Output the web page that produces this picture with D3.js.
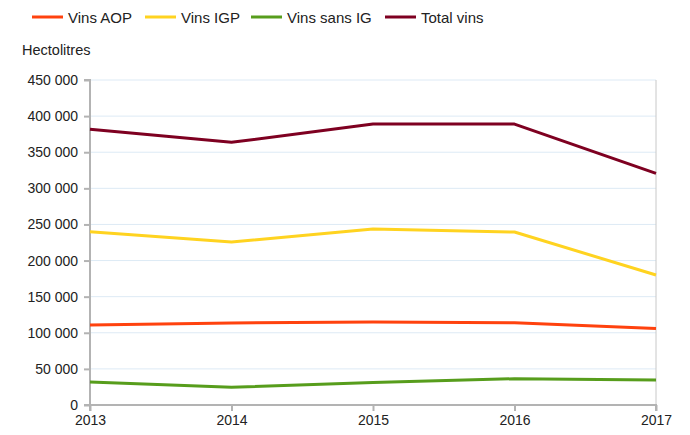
<!DOCTYPE html>
<html>
<head>
<meta charset="utf-8">
<script src="https://cdn.jsdelivr.net/npm/d3@7"></script>
<style>
    body { margin: 0; background: #fff; }
    svg { font-family: "Liberation Sans", Arial, sans-serif; }
</style>
</head>
<body>
<div id="chart"></div>
<script>
// years on the x axis
const years = [2013, 2014, 2015, 2016, 2017];

// series values, hectolitres
const vins_aop = [110800, 113500, 115000, 114000, 106000];
const vins_igp = [240000, 225700, 243700, 239500, 180000];
const vins_sans_ig = [32000, 24500, 31000, 36400, 34600];
const total_vins = [381700, 363700, 389000, 389000, 320800];

const series_names = ["Vins AOP", "Vins IGP", "Vins sans IG", "Total vins"];
const series_colors = ["#ff420e", "#ffd320", "#579d1c", "#7e0021"];
const y_ticks = [0, 50000, 100000, 150000, 200000, 250000, 300000, 350000, 400000, 450000];

const svg_w = 690, svg_h = 435;
const margin = { top: 80, right: 34, bottom: 30, left: 90 };
const width = svg_w - margin.left - margin.right,
    height = svg_h - margin.top - margin.bottom;

const svg = d3.select("#chart")
    .append("svg")
    .attr("width", svg_w)
    .attr("height", svg_h);

const g = svg.append("g")
    .attr("transform", "translate(" + margin.left + "," + margin.top + ")");

const x = d3.scalePoint()
    .domain(years)
    .range([0, width]);

const y = d3.scaleLinear()
    .domain([0, 450000])
    .range([height, 0]);

const fmt = v => d3.format(",")(v).replace(/,/g, " ");

// grid
g.selectAll(".grid")
    .data(y_ticks.slice(1))
    .enter()
    .append("line")
    .attr("x1", 0)
    .attr("x2", width)
    .attr("y1", d => y(d))
    .attr("y2", d => y(d))
    .style("stroke", "#ddeaf5")
    .style("stroke-width", 1);

// right border
g.append("line")
    .attr("x1", width).attr("x2", width)
    .attr("y1", 0).attr("y2", height)
    .style("stroke", "#c8c8c8");

// axes
const yAxis = d3.axisLeft(y).tickValues(y_ticks).tickSize(6).tickPadding(6).tickFormat(fmt);
const xAxis = d3.axisBottom(x).tickSize(6).tickPadding(4).tickFormat(d3.format("d"));

const ya = g.append("g").call(yAxis);
const xa = g.append("g").attr("transform", "translate(0," + height + ")").call(xAxis);

[ya, xa].forEach(a => {
    a.select(".domain").style("stroke", "#b3b3b3").style("stroke-width", 2);
    a.selectAll(".tick line").style("stroke", "#b3b3b3").style("stroke-width", 2);
    a.selectAll("text")
        .style("font-family", "Liberation Sans, Arial, sans-serif")
        .style("font-size", "14px")
        .style("fill", "#222");
});
ya.select(".domain").attr("d", "M-6,0H0V" + height + "H-6");
xa.select(".domain").attr("d", "M0,6V0H" + width + "V6");

// lines
const data = [vins_aop, vins_igp, vins_sans_ig, total_vins];
const line = d3.line()
    .x((d, i) => x(years[i]))
    .y(d => y(d));

g.selectAll(".series")
    .data(data)
    .enter()
    .append("path")
    .attr("d", d => line(d))
    .style("fill", "none")
    .style("stroke", (d, i) => series_colors[i])
    .style("stroke-width", 3)
    .style("stroke-linejoin", "round");

// legend
const legend_x = [32, 145, 251, 385];
const legend = svg.selectAll(".legend")
    .data(series_names)
    .enter()
    .append("g")
    .attr("transform", (d, i) => "translate(" + legend_x[i] + ",17)");

legend.append("line")
    .attr("x1", 0).attr("x2", 31)
    .attr("y1", 0).attr("y2", 0)
    .style("stroke", (d, i) => series_colors[i])
    .style("stroke-width", 3);

legend.append("text")
    .attr("x", 36)
    .attr("y", 5.5)
    .text(d => d)
    .style("font-size", "15px")
    .style("fill", "#222");

svg.append("text")
    .attr("x", 22)
    .attr("y", 55)
    .text("Hectolitres")
    .style("font-size", "14.5px")
    .style("fill", "#222");
</script>
</body>
</html>
